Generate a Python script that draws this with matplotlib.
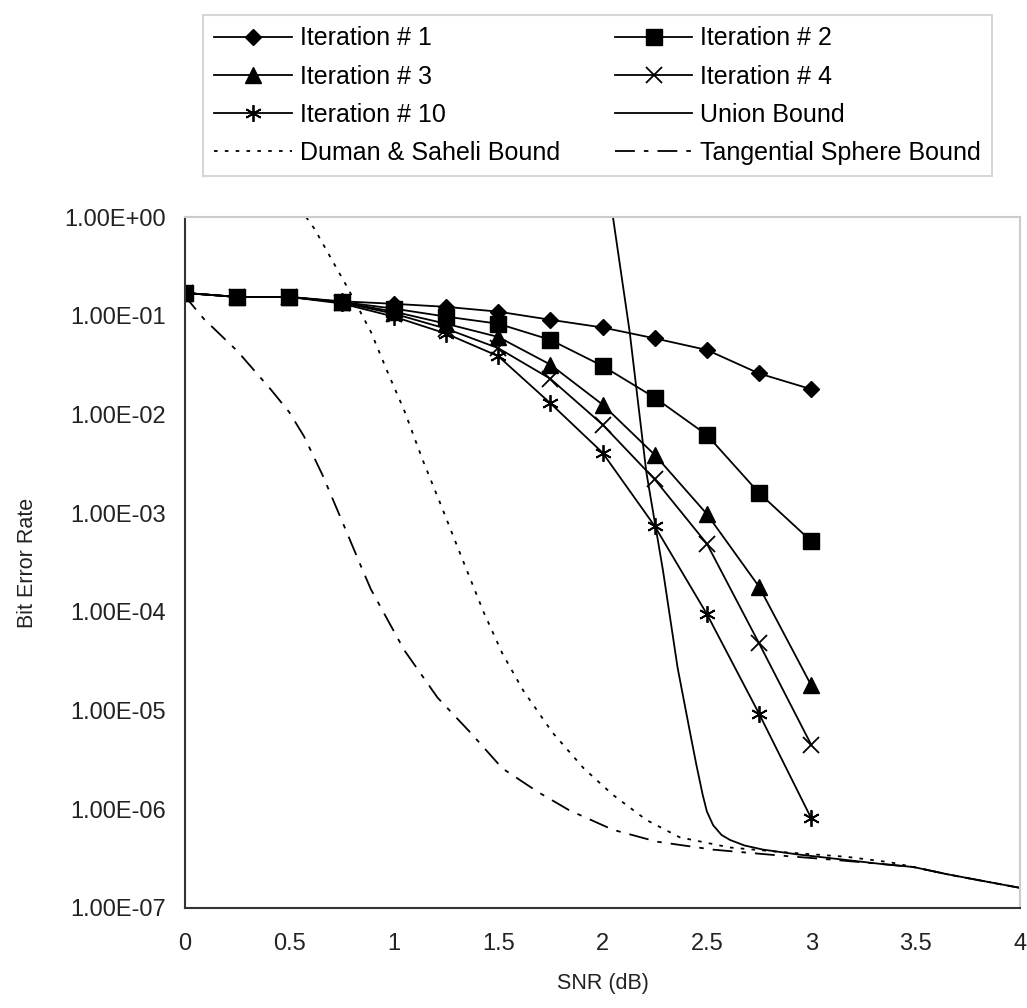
import numpy as np
import matplotlib.pyplot as plt
from matplotlib.ticker import FixedLocator, FuncFormatter

plt.rcParams['font.family'] = ['Liberation Sans', 'DejaVu Sans']

# simulated BER per iteration
snr = [0, 0.25, 0.5, 0.75, 1.0, 1.25, 1.5, 1.75, 2.0, 2.25, 2.5, 2.75, 3.0]
iter1 = [0.17, 0.155, 0.155, 0.14, 0.132, 0.123, 0.11, 0.091, 0.076, 0.059, 0.045, 0.026, 0.018]
iter2 = [0.17, 0.155, 0.155, 0.138, 0.118, 0.098, 0.083, 0.057, 0.031, 0.0148, 0.0062, 0.0016, 0.00052]
iter3 = [0.17, 0.155, 0.155, 0.137, 0.11, 0.083, 0.061, 0.032, 0.0126, 0.0039, 0.00098, 0.00018, 0.000018]
iter4 = [0.17, 0.155, 0.155, 0.136, 0.105, 0.074, 0.047, 0.023, 0.0079, 0.0022, 0.00049, 0.000048, 0.0000045]
iter10 = [0.17, 0.155, 0.155, 0.133, 0.098, 0.066, 0.039, 0.013, 0.0041, 0.00074, 0.000095, 0.0000093, 0.00000081]

# bounds
ub_snr = [2.05, 2.13, 2.21, 2.29, 2.36, 2.42, 2.45, 2.48, 2.50, 2.53, 2.57, 2.61, 2.68, 2.77, 2.93, 3.09,
          3.33, 3.49, 3.65, 3.81, 4.0]
ub_ber = [1.0, 6.9e-2, 2.6e-3, 2.6e-4, 2.7e-5, 5.9e-6, 2.8e-6, 1.4e-6, 9.5e-7, 6.9e-7, 5.5e-7, 4.9e-7,
          4.3e-7, 3.9e-7, 3.5e-7, 3.2e-7, 2.8e-7, 2.6e-7, 2.2e-7, 1.9e-7, 1.6e-7]

ds_snr = [0.58, 0.62, 0.78, 0.89, 0.97, 1.05, 1.14, 1.22, 1.32, 1.43, 1.52, 1.62, 1.76, 1.91, 2.05,
          2.21, 2.37, 2.61, 2.85, 3.17, 3.38, 3.49, 3.65, 3.81, 4.0]
ds_ber = [1.0, 7.6e-1, 1.9e-1, 6.9e-2, 2.7e-2, 1.1e-2, 3.4e-3, 1.3e-3, 3.8e-4, 1.0e-4, 3.8e-5, 1.6e-5,
          6.0e-6, 2.6e-6, 1.4e-6, 7.8e-7, 5.2e-7, 4.1e-7, 3.7e-7, 3.3e-7, 2.9e-7, 2.6e-7, 2.2e-7, 1.9e-7, 1.6e-7]

tsb_snr = [0.0, 0.02, 0.09, 0.25, 0.41, 0.5, 0.57, 0.66, 0.76, 0.84, 0.89, 1.05, 1.21, 1.37, 1.52, 1.69,
           1.84, 2.05, 2.26, 2.53, 2.85, 3.09, 3.33, 3.49, 3.65, 3.81, 4.0]
tsb_ber = [1.7e-1, 1.4e-1, 9.3e-2, 4.4e-2, 1.8e-2, 1.05e-2, 6.0e-3, 2.4e-3, 7.6e-4, 3.0e-4, 1.7e-4, 4.1e-5,
           1.35e-5, 5.9e-6, 2.6e-6, 1.5e-6, 9.8e-7, 6.2e-7, 4.7e-7, 3.9e-7, 3.4e-7, 3.1e-7, 2.8e-7, 2.6e-7,
           2.2e-7, 1.9e-7, 1.6e-7]

xticks = [0, 0.5, 1, 1.5, 2, 2.5, 3, 3.5, 4]
yticks = [1e-7, 1e-6, 1e-5, 1e-4, 1e-3, 1e-2, 1e-1, 1e0]

fig = plt.figure(figsize=(10.27, 10.08), dpi=100)
ax = fig.add_axes([185/1027, 1-908/1008, (1020-185)/1027, (908-217)/1008])

lw = 1.3
h1, = ax.plot(snr, iter1, color='black', lw=lw, marker='D', ms=8.5, label='Iteration # 1')
h2, = ax.plot(snr, iter2, color='black', lw=lw, marker='s', ms=11, label='Iteration # 2')
h3, = ax.plot(snr, iter3, color='black', lw=lw, marker='^', ms=11, label='Iteration # 3')
h4, = ax.plot(snr, iter4, color='black', lw=lw, marker='x', ms=12, mew=1.3, label='Iteration # 4')
h10, = ax.plot(snr, iter10, color='black', lw=lw, marker=(6, 2, 0), ms=12, mew=1.3, label='Iteration # 10')
hub, = ax.plot(ub_snr, ub_ber, color='black', lw=lw, label='Union Bound')
hds, = ax.plot(ds_snr, ds_ber, color='black', lw=lw, linestyle=(0, (2, 4)), label='Duman & Saheli Bound')
htsb, = ax.plot(tsb_snr, tsb_ber, color='black', lw=lw, linestyle=(0, (11, 5, 2.5, 5)),
                label='Tangential Sphere Bound')

ax.set_yscale('log')
ax.set_xlim(0, 4)
ax.set_ylim(1e-7, 1)
ax.xaxis.set_major_locator(FixedLocator(xticks))
ax.yaxis.set_major_locator(FixedLocator(yticks))
ax.yaxis.set_minor_locator(FixedLocator([]))
ax.xaxis.set_major_formatter(FuncFormatter(lambda v, p: '%g' % v))
ax.yaxis.set_major_formatter(FuncFormatter(lambda v, p: '%.2E' % v))
ax.tick_params(length=0, labelsize=17, colors='#222222')
ax.tick_params(axis='x', pad=18)
ax.tick_params(axis='y', pad=14)
ax.set_xlabel('SNR (dB)', fontsize=15.5, labelpad=13, color='#222222')
ax.set_ylabel('Bit Error Rate', fontsize=15.5, labelpad=19, color='#222222')

for s in ['left', 'bottom']:
    ax.spines[s].set_color('#333333')
    ax.spines[s].set_linewidth(1.5)
for s in ['top', 'right']:
    ax.spines[s].set_color('#cccccc')
    ax.spines[s].set_linewidth(1.5)

# legend is filled column by column
handles = [h1, h3, h10, hds, h2, h4, hub, htsb]
leg = fig.legend(handles=handles, labels=[h.get_label() for h in handles], ncol=2,
                 loc='upper left', bbox_to_anchor=(203/1027, 1-15/1008), borderaxespad=0,
                 fontsize=18, handlelength=3.1, handletextpad=0.32, columnspacing=2.2,
                 labelspacing=0.57, borderpad=0.45, fancybox=False, frameon=True)
leg.get_frame().set_edgecolor('#cccccc')
leg.get_frame().set_linewidth(1.5)

plt.savefig('out.png', dpi=100)
